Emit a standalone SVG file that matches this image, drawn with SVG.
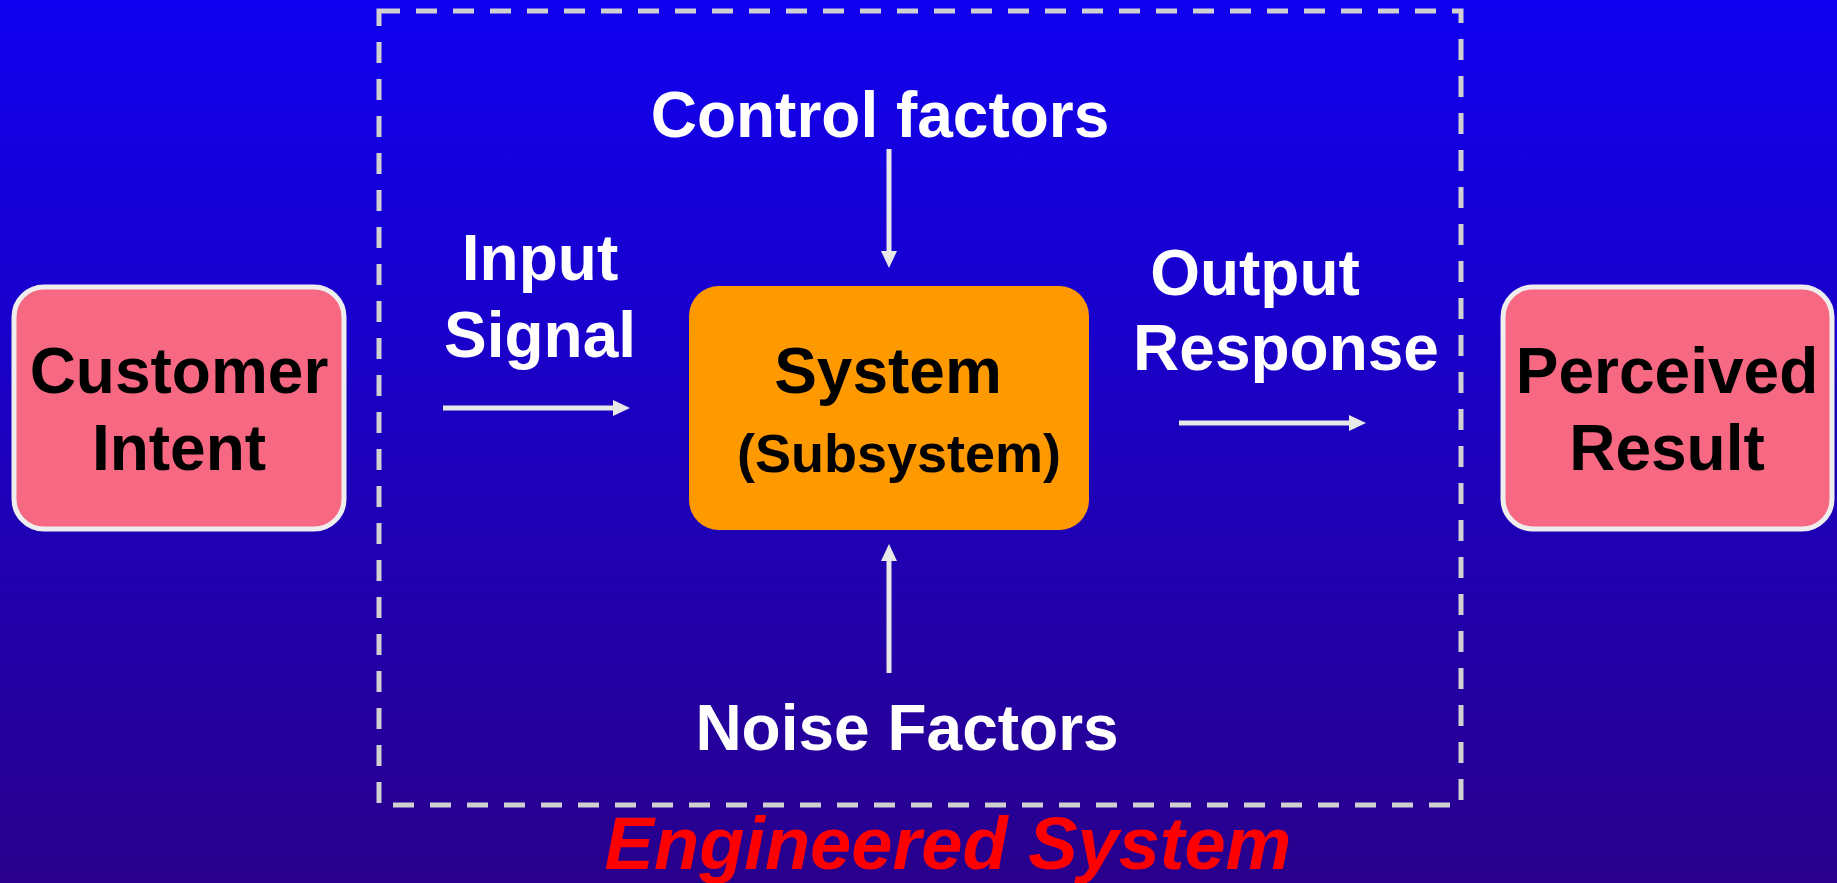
<svg xmlns="http://www.w3.org/2000/svg" width="1837" height="883" viewBox="0 0 1837 883">
  <defs>
    <linearGradient id="bg" x1="0" y1="0" x2="0" y2="1">
      <stop offset="0" stop-color="#1000F0"/>
      <stop offset="1" stop-color="#29008C"/>
    </linearGradient>
    <marker id="ah" markerUnits="userSpaceOnUse" markerWidth="18" markerHeight="18" viewBox="0 0 18 18" refX="0" refY="9" orient="auto">
      <polygon points="0,1 17,9 0,17" fill="#e8e8e8"/>
    </marker>
    <style>
      .lbl { font-family: "Liberation Sans", Arial, sans-serif; font-weight: bold; font-size: 64px; text-anchor: middle; }
      .w { fill: #ffffff; }
      .k { fill: #000000; }
      .pink { fill: #F76882; stroke: #eeeeee; stroke-width: 5; }
      .conn line { stroke: #e8e8e8; stroke-width: 5; marker-end: url(#ah); }
    </style>
  </defs>
  <rect x="0" y="0" width="1837" height="883" fill="url(#bg)"/>

  <g id="engineered-system">
    <rect x="379" y="11" width="1082" height="794" fill="none" stroke="#d0d0d0" stroke-width="5" stroke-dasharray="21 16"/>
    <text x="948" y="869" style="font-family: 'Liberation Sans', Arial, sans-serif; font-weight: bold; font-style: italic; font-size: 74px; text-anchor: middle;" fill="#ff0000">Engineered System</text>
  </g>

  <g id="customer-intent">
    <rect class="pink" x="14" y="287" width="330" height="242" rx="30"/>
    <text class="lbl k" x="179" y="393">Customer</text>
    <text class="lbl k" x="179" y="470">Intent</text>
  </g>

  <g id="system">
    <rect x="689" y="286" width="400" height="244" rx="30" fill="#FF9900"/>
    <text class="lbl k" x="888" y="393">System</text>
    <text class="lbl k" x="899" y="472" style="font-size: 54px;">(Subsystem)</text>
  </g>

  <g id="perceived-result">
    <rect class="pink" x="1503" y="287" width="329" height="242" rx="30"/>
    <text class="lbl k" x="1667" y="393">Perceived</text>
    <text class="lbl k" x="1667" y="470">Result</text>
  </g>

  <g id="input-signal">
    <text class="lbl w" x="540" y="280">Input</text>
    <text class="lbl w" x="540" y="357">Signal</text>
  </g>

  <g id="output-response">
    <text class="lbl w" x="1255" y="295">Output</text>
    <text class="lbl w" x="1286" y="370">Response</text>
  </g>

  <g id="control-factors">
    <text class="lbl w" x="880" y="137">Control factors</text>
  </g>

  <g id="noise-factors">
    <text class="lbl w" x="907" y="750">Noise Factors</text>
  </g>

  <g id="connectors" class="conn">
    <line x1="443" y1="408" x2="613" y2="408"/>
    <line x1="1179" y1="423" x2="1349" y2="423"/>
    <line x1="889" y1="149" x2="889" y2="251"/>
    <line x1="889" y1="673" x2="889" y2="561"/>
  </g>
</svg>
